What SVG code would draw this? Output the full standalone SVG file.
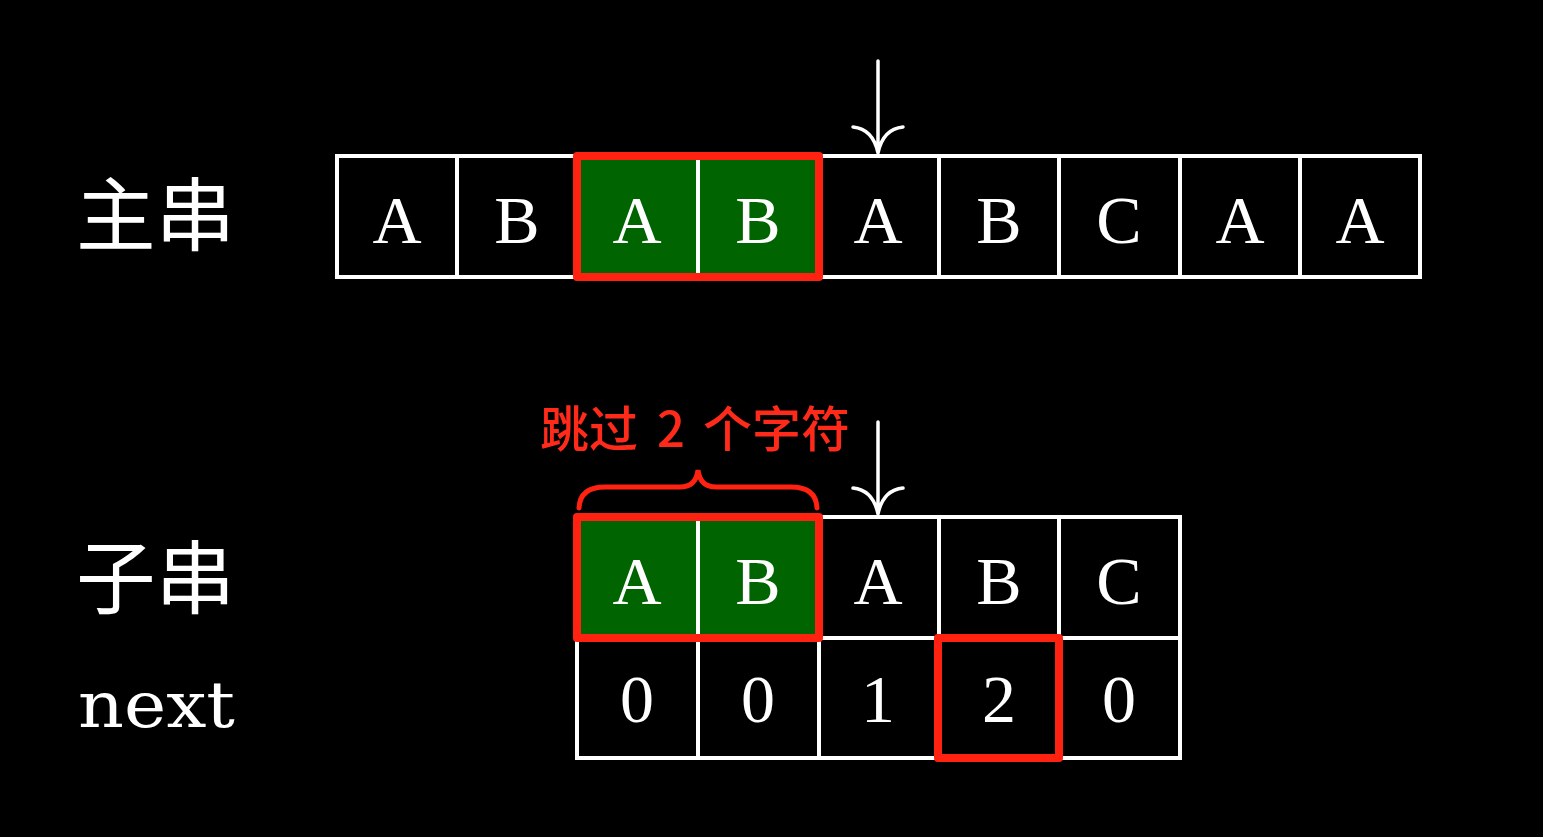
<svg xmlns="http://www.w3.org/2000/svg" width="1543" height="837" viewBox="0 0 1543 837">
<style>
.cell{fill:#000;stroke:#fff;stroke-width:4}
.hl{fill:#006400;stroke:#fff;stroke-width:4}
.red{fill:none;stroke:#ff2211;stroke-width:8;stroke-linejoin:round}
.ch{font-family:"Liberation Serif","DejaVu Serif",serif;font-size:68px;fill:#fff;text-anchor:middle}
.lab{font-family:"Noto Sans CJK SC",sans-serif;font-size:80px;fill:#fff}
.arr{fill:none;stroke:#fff;stroke-width:3.5;stroke-linecap:round}
</style>
<rect width="1543" height="837" fill="#000"/>
<g id="labels">
<text class="lab" x="76" y="244" textLength="159" lengthAdjust="spacingAndGlyphs">主串</text>
<text class="lab" x="76" y="607" textLength="159" lengthAdjust="spacingAndGlyphs">子串</text>
<text x="78" y="727" textLength="157" lengthAdjust="spacingAndGlyphs" style="font-family:'DejaVu Serif','Liberation Serif',serif;font-size:64px;fill:#fff">next</text>
</g>
<g id="main">
<rect class="cell" x="337" y="156" width="120" height="121"/>
<rect class="cell" x="457" y="156" width="120" height="121"/>
<rect class="hl" x="577" y="156" width="121" height="121"/>
<rect class="hl" x="698" y="156" width="121" height="121"/>
<rect class="cell" x="819" y="156" width="120" height="121"/>
<rect class="cell" x="939" y="156" width="120" height="121"/>
<rect class="cell" x="1059" y="156" width="121" height="121"/>
<rect class="cell" x="1180" y="156" width="120" height="121"/>
<rect class="cell" x="1300" y="156" width="120" height="121"/>
<text class="ch" x="397" y="243">A</text>
<text class="ch" x="517" y="243">B</text>
<text class="ch" x="637" y="243">A</text>
<text class="ch" x="758" y="243">B</text>
<text class="ch" x="878" y="243">A</text>
<text class="ch" x="999" y="243">B</text>
<text class="ch" x="1119" y="243">C</text>
<text class="ch" x="1240" y="243">A</text>
<text class="ch" x="1360" y="243">A</text>
<rect class="red" x="577" y="156" width="242" height="121"/>
</g>
<g id="sub">
<rect class="hl" x="577" y="517" width="121" height="121"/>
<rect class="hl" x="698" y="517" width="121" height="121"/>
<rect class="cell" x="819" y="517" width="120" height="121"/>
<rect class="cell" x="939" y="517" width="120" height="121"/>
<rect class="cell" x="1059" y="517" width="121" height="121"/>
<text class="ch" x="637" y="604">A</text>
<text class="ch" x="758" y="604">B</text>
<text class="ch" x="878" y="604">A</text>
<text class="ch" x="999" y="604">B</text>
<text class="ch" x="1119" y="604">C</text>
</g>
<g id="next">
<rect class="cell" x="577" y="638" width="121" height="120"/>
<rect class="cell" x="698" y="638" width="121" height="120"/>
<rect class="cell" x="819" y="638" width="120" height="120"/>
<rect class="cell" x="939" y="638" width="120" height="120"/>
<rect class="cell" x="1059" y="638" width="121" height="120"/>
<text class="ch" x="637" y="722">0</text>
<text class="ch" x="758" y="722">0</text>
<text class="ch" x="878" y="722">1</text>
<text class="ch" x="999" y="722">2</text>
<text class="ch" x="1119" y="722">0</text>
<rect class="red" x="577" y="517" width="242" height="121"/>
<rect class="red" x="938" y="638" width="121" height="120"/>
</g>
<g id="note">
<path d="M579,508 Q580,487 605,487 L680,487 Q696,487 698,470 Q700,487 716,487 L791,487 Q816,487 817,508" fill="none" stroke="#ff2211" stroke-width="5" stroke-linecap="round"/>
<text y="447" style="font-family:'Noto Sans CJK SC',sans-serif;font-size:49px;font-weight:500;fill:#ff2a1a"><tspan x="540">跳过</tspan><tspan x="657">2</tspan><tspan x="703">个字符</tspan></text>
</g>
<g id="connectors">
<path class="arr" d="M878,61 L878,153 M853,127 Q873,129 878,153 Q883,129 903,127"/>
<path class="arr" d="M878,422 L878,514 M853,488 Q873,490 878,514 Q883,490 903,488"/>
</g>
</svg>
